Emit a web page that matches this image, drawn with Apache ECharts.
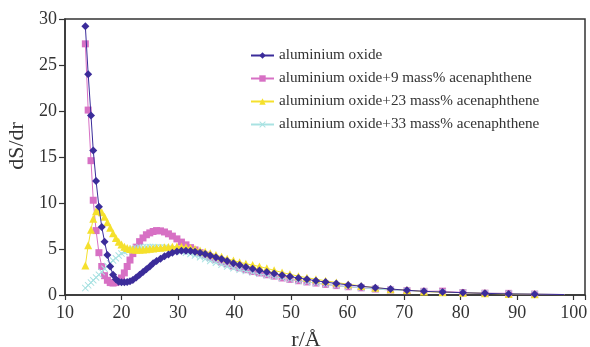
<!DOCTYPE html>
<html>
<head>
<meta charset="utf-8">
<script src="https://cdn.jsdelivr.net/npm/echarts@6/dist/echarts.min.js"></script>
<style>
  html, body { margin: 0; padding: 0; background: #fff; }
  #main { width: 590px; height: 347px; }
</style>
</head>
<body>
<div id="main"></div>
<script>
// pore radius r / Å (shared grid)
const radius = [13.6, 14.1, 14.6, 15.0, 15.5, 16.0, 16.5, 17.0, 17.5, 18.0, 18.5, 19.0, 19.5, 20.0, 20.5, 21.0, 21.5, 22.0, 22.6, 23.2,
  23.8, 24.4, 25.0, 25.6, 26.2, 26.9, 27.6, 28.3, 29.0, 29.8, 30.6, 31.4, 32.2, 33.0, 33.9, 34.8, 35.7, 36.7, 37.7, 38.7,
  39.8, 40.9, 42.0, 43.2, 44.4, 45.7, 47.0, 48.4, 49.8, 51.3, 52.8, 54.4, 56.1, 58.0, 60.1, 62.4, 64.9, 67.6, 70.5, 73.5,
  76.8, 80.4, 84.3, 88.5, 93.1, 98.4]

const alumina = [29.2, 24.0, 19.5, 15.7, 12.4, 9.6, 7.4, 5.8, 4.35, 3.1, 2.2, 1.7, 1.45, 1.38, 1.38, 1.42, 1.5, 1.62, 1.9, 2.2,
  2.5, 2.8, 3.1, 3.44, 3.7, 3.95, 4.2, 4.4, 4.6, 4.72, 4.8, 4.82, 4.78, 4.7, 4.6, 4.45, 4.3, 4.1, 3.9, 3.7,
  3.45, 3.25, 3.05, 2.85, 2.65, 2.5, 2.35, 2.15, 2.0, 1.85, 1.7, 1.55, 1.4, 1.25, 1.1, 0.95, 0.8, 0.65, 0.52, 0.4,
  0.32, 0.25, 0.18, 0.12, 0.08, 0.05]

const ace9 = [27.3, 20.1, 14.6, 10.3, 7.0, 4.6, 3.1, 2.1, 1.6, 1.35, 1.3, 1.35, 1.55, 1.85, 2.4, 3.1, 3.8, 4.5, 5.2, 5.8,
  6.2, 6.55, 6.75, 6.9, 7.0, 6.97, 6.85, 6.65, 6.4, 6.1, 5.75, 5.45, 5.15, 4.9, 4.6, 4.35, 4.1, 3.85, 3.6, 3.4,
  3.15, 2.95, 2.75, 2.55, 2.4, 2.2, 2.05, 1.85, 1.7, 1.55, 1.42, 1.3, 1.15, 1.02, 0.9, 0.78, 0.65, 0.55, 0.47, 0.4,
  0.42, 0.27, 0.2, 0.18, 0.1, 0.05]

const ace23 = [3.2, 5.4, 7.1, 8.3, 9.1, 9.3, 9.0, 8.5, 7.9, 7.3, 6.7, 6.2, 5.8, 5.5, 5.25, 5.1, 5.0, 4.95, 4.92, 4.92,
  4.95, 4.98, 5.02, 5.06, 5.1, 5.14, 5.18, 5.22, 5.25, 5.27, 5.25, 5.2, 5.1, 5.0, 4.85, 4.7, 4.55, 4.35, 4.15, 3.95,
  3.75, 3.55, 3.4, 3.25, 3.1, 2.9, 2.68, 2.45, 2.25, 2.05, 1.88, 1.72, 1.55, 1.36, 1.17, 0.98, 0.8, 0.63, 0.54, 0.37,
  0.3, 0.25, 0.18, 0.11, 0.07, 0.04]

const ace33 = [0.75, 1.05, 1.35, 1.6, 1.9, 2.2, 2.5, 2.85, 3.15, 3.45, 3.75, 4.0, 4.3, 4.5, 4.68, 4.82, 4.95, 5.05, 5.12, 5.18,
  5.2, 5.22, 5.22, 5.22, 5.2, 5.18, 5.15, 5.1, 5.0, 4.9, 4.75, 4.6, 4.45, 4.3, 4.1, 3.9, 3.7, 3.5, 3.3, 3.1,
  2.9, 2.75, 2.6, 2.45, 2.3, 2.15, 2.0, 1.85, 1.7, 1.55, 1.42, 1.3, 1.15, 1.02, 0.9, 0.78, 0.65, 0.55, 0.47, 0.38,
  0.32, 0.26, 0.19, 0.15, 0.1, 0.05]

const names = [
  'aluminium oxide',
  'aluminium oxide+9 mass% acenaphthene',
  'aluminium oxide+23 mass% acenaphthene',
  'aluminium oxide+33 mass% acenaphthene',
]

const crossPath = 'path://M0,1L1,0L5,4L9,0L10,1L6,5L10,9L9,10L5,6L1,10L0,9L4,5Z'
const font = 'Liberation Serif'
const axisColor = '#333'

// last point of every curve is drawn without a marker, like the original
const pairs = (ys) => ys.map((y, i) => (
  i === ys.length - 1 ? { value: [radius[i], y], symbol: 'none' } : [radius[i], y]
))

const mkSeries = (name, ys, color, symbol, size, z) => ({
  name,
  type: 'line',
  data: pairs(ys),
  symbol,
  symbolSize: size,
  showSymbol: true,
  z,
  lineStyle: { color, width: 1 },
  itemStyle: { color },
})

const chart = echarts.init(document.getElementById('main'))
chart.setOption({
  animation: false,
  backgroundColor: '#fff',
  grid: {
    left: 65, right: 5, top: 19, bottom: 52,
    outerBoundsMode: 'none',
    containLabel: false,
    show: true, borderColor: axisColor, borderWidth: 1.5,
  },
  legend: {
    orient: 'vertical',
    left: 245,
    top: 43,
    itemWidth: 23,
    itemHeight: 8,
    itemGap: 8,
    data: names,
    textStyle: { fontFamily: font, fontSize: 15.2, color: '#333' },
  },
  xAxis: {
    type: 'value',
    min: 10,
    max: 102,
    interval: 10,
    name: 'r/Å',
    nameLocation: 'middle',
    nameGap: 34,
    nameTextStyle: { fontFamily: font, fontSize: 22, color: '#333', padding: [0, 38, 0, 0] },
    axisLine: { show: true, lineStyle: { color: axisColor, width: 1.5 } },
    axisTick: { show: true, length: 5, lineStyle: { color: axisColor, width: 1.2 } },
    axisLabel: {
      fontFamily: font, fontSize: 18, color: '#333', margin: 9,
      formatter: (v) => (v % 10 === 0 ? String(v) : ''),
    },
    splitLine: { show: false },
  },
  yAxis: {
    type: 'value',
    min: 0,
    max: 30,
    interval: 5,
    name: 'dS/dr',
    nameLocation: 'middle',
    nameGap: 29,
    nameTextStyle: { fontFamily: font, fontSize: 22, color: '#333', padding: [0, 0, 0, 22] },
    axisLine: { show: true, lineStyle: { color: axisColor, width: 1.5 } },
    axisTick: { show: true, length: 6, lineStyle: { color: axisColor, width: 1.2 } },
    axisLabel: { fontFamily: font, fontSize: 18, color: '#333', margin: 8 },
    splitLine: { show: false },
  },
  series: [
    mkSeries(names[0], alumina, '#3b2c9a', 'diamond', 8, 5),
    mkSeries(names[1], ace9, '#d770c4', 'rect', 7, 2),
    mkSeries(names[2], ace23, '#f5e02c', 'triangle', 8, 4),
    mkSeries(names[3], ace33, '#a9e2e2', crossPath, 7, 3),
  ],
})
</script>
</body>
</html>
